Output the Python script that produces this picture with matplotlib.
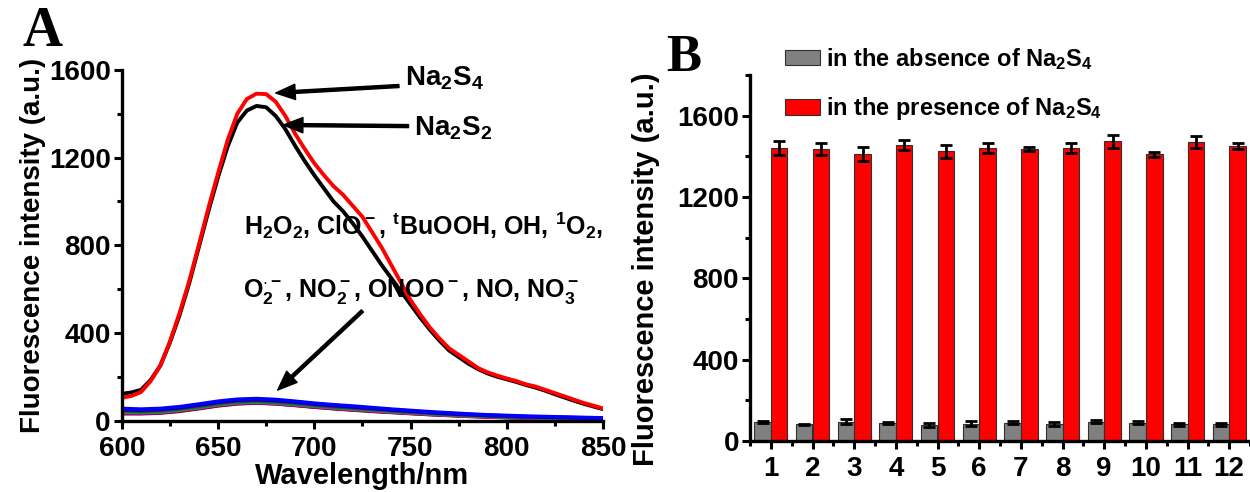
import numpy as np
import matplotlib
matplotlib.use('Agg')
import matplotlib.pyplot as plt
from matplotlib.ticker import MultipleLocator

plt.rcParams['font.family'] = ['Liberation Sans', 'DejaVu Sans']
plt.rcParams['font.weight'] = 'bold'
plt.rcParams['mathtext.fontset'] = 'custom'
plt.rcParams['mathtext.rm'] = 'Liberation Sans:bold'
plt.rcParams['mathtext.it'] = 'Liberation Sans:bold'
plt.rcParams['mathtext.bf'] = 'Liberation Sans:bold'
plt.rcParams['mathtext.default'] = 'rm'

# ---- panel A: emission spectra ----
wl = [600, 605, 610, 615, 620, 625, 630, 635, 640, 645, 650, 655, 660, 665, 670,
      675, 680, 685, 690, 695, 700, 705, 710, 715, 720, 725, 730, 735, 740, 745,
      750, 755, 760, 765, 770, 775, 780, 785, 790, 795, 800, 805, 810, 815, 820,
      825, 830, 835, 840, 845, 850]
na2s4 = [104, 112, 130, 180, 250, 360, 490, 635, 800, 970, 1128, 1280, 1400, 1468, 1492,
         1490, 1455, 1390, 1310, 1240, 1175, 1120, 1070, 1030, 980, 930, 860, 790, 710, 630,
         550, 485, 425, 375, 330, 300, 270, 240, 220, 205, 192, 180, 165, 155, 140,
         125, 110, 95, 80, 68, 55]
na2s2 = [122, 128, 140, 185, 250, 355, 480, 625, 790, 955, 1110, 1250, 1360, 1415, 1436,
         1430, 1390, 1330, 1255, 1185, 1120, 1060, 1000, 955, 900, 840, 775, 710, 650, 590,
         530, 470, 415, 365, 320, 290, 260, 235, 215, 200, 188, 176, 162, 150, 136,
         120, 105, 90, 76, 64, 52]

wl_low = [600, 610, 620, 630, 640, 650, 660, 670, 680, 690, 700, 710, 720,
          730, 740, 750, 760, 770, 780, 790, 800, 810, 820, 830, 840, 850]
low_wine = [31, 31, 34, 42, 54, 67, 76, 80, 76, 69, 61, 54, 48, 42, 37, 32, 27, 23, 19, 16, 13, 11, 9, 8, 7, 6]
low_purple = [34, 33, 36, 44, 56, 69, 78, 81, 77, 70, 62, 55, 49, 43, 38, 33, 28, 24, 20, 17, 14, 12, 10, 9, 7, 6]
low_magenta = [36, 35, 38, 46, 58, 71, 80, 83, 79, 72, 64, 57, 51, 45, 39, 34, 29, 25, 21, 18, 15, 13, 11, 9, 8, 7]
low_olive = [39, 37, 40, 48, 60, 73, 82, 85, 81, 74, 66, 59, 53, 47, 41, 36, 31, 26, 22, 19, 16, 14, 12, 10, 9, 8]
low_cyan = [41, 39, 42, 50, 62, 75, 84, 87, 83, 76, 68, 61, 55, 49, 43, 37, 32, 27, 23, 20, 17, 15, 13, 11, 10, 8]
low_green = [44, 41, 44, 52, 64, 77, 86, 89, 85, 78, 70, 63, 57, 51, 45, 39, 34, 29, 25, 21, 18, 16, 14, 12, 10, 9]
low_violet = [47, 45, 48, 56, 68, 81, 90, 93, 89, 82, 73, 66, 60, 53, 47, 41, 35, 30, 26, 22, 19, 17, 15, 13, 11, 10]
low_navy = [50, 48, 51, 59, 71, 84, 93, 96, 92, 85, 76, 69, 63, 56, 49, 43, 37, 32, 28, 24, 21, 18, 16, 14, 12, 11]
low_blue = [55, 52, 55, 63, 75, 88, 97, 100, 96, 88, 79, 72, 66, 59, 52, 46, 40, 35, 30, 26, 23, 20, 18, 16, 14, 12]
low_sets = [(low_wine, '#800000'), (low_purple, '#800080'), (low_magenta, '#c000c0'),
            (low_olive, '#808000'), (low_cyan, '#008080'), (low_green, '#008000'),
            (low_violet, '#6000c0'), (low_navy, '#000080'), (low_blue, '#0000ff')]

# ---- panel B: bar chart ----
samples = [1, 2, 3, 4, 5, 6, 7, 8, 9, 10, 11, 12]
absence = [95, 82, 95, 90, 79, 85, 90, 82, 95, 90, 82, 82]
absence_err = [5, 3, 12, 5, 10, 12, 8, 10, 8, 8, 8, 8]
presence = [1442, 1435, 1412, 1455, 1425, 1440, 1437, 1440, 1473, 1410, 1470, 1452]
presence_err = [34, 30, 35, 25, 33, 26, 11, 26, 33, 13, 30, 15]

fig = plt.figure(figsize=(12.5, 4.92), dpi=100)
axA = fig.add_axes([0.0974, 0.1453, 0.3850, 0.7124])
axB = fig.add_axes([0.6000, 0.1037, 0.4000, 0.7439])

def style(ax):
    for s in ['top', 'right']:
        ax.spines[s].set_visible(False)
    for s in ['left', 'bottom']:
        ax.spines[s].set_linewidth(2.4)
    ax.tick_params(which='major', direction='out', length=6, width=2.2, labelsize=20, pad=2)
    ax.tick_params(which='minor', direction='out', length=3.5, width=2.2)
    ax.tick_params(axis='x', which='major', pad=5)
    for lab in ax.get_xticklabels() + ax.get_yticklabels():
        lab.set_fontweight('bold')

# A
for vals, col in low_sets:
    axA.plot(wl_low, vals, color=col, lw=2.6)
axA.plot(wl, na2s2, color='black', lw=2.8)
axA.plot(wl, na2s4, color='#ff0000', lw=2.8)
axA.set_xlim(600, 850)
axA.set_ylim(0, 1600)
axA.xaxis.set_major_locator(MultipleLocator(50))
axA.xaxis.set_minor_locator(MultipleLocator(25))
axA.yaxis.set_major_locator(MultipleLocator(400))
axA.yaxis.set_minor_locator(MultipleLocator(200))
style(axA)
axA.set_xlabel('Wavelength/nm', fontsize=21, fontweight='bold', labelpad=0)
axA.set_ylabel('Fluorescence intensity (a.u.)', fontsize=20, fontweight='bold')
axA.yaxis.set_label_coords(-0.158, 0.50)

arr = dict(facecolor='black', edgecolor='black', width=2.2, headwidth=11, headlength=14, shrink=0)
axA.annotate('', xy=(680, 1495), xytext=(744, 1527), arrowprops=arr, annotation_clip=False)
axA.annotate('', xy=(684, 1349), xytext=(749, 1344), arrowprops=arr, annotation_clip=False)
axA.annotate('', xy=(681, 139), xytext=(725, 500), arrowprops=arr, annotation_clip=False)
axA.text(747, 1531, 'Na$_2$S$_4$', fontsize=20, fontweight='bold', va='baseline', clip_on=False)
axA.text(752, 1303, 'Na$_2$S$_2$', fontsize=20, fontweight='bold', va='baseline', clip_on=False)
axA.text(663.5, 850, 'H$_2$O$_2$, ClO$^-$, $^t$BuOOH, OH, $^1$O$_2$,', fontsize=18,
         fontweight='bold', va='baseline', clip_on=False)
axA.text(663, 565, 'O$_2^{\\cdot-}$, NO$_2^-$, ONOO$^-$, NO, NO$_3^-$', fontsize=18,
         fontweight='bold', va='baseline', clip_on=False)

fig.text(0.018, 0.906, 'A', fontsize=40, fontweight='bold', family='Liberation Serif')

# B
x = np.array(samples)
axB.bar(x - 0.2, absence, width=0.4, color='#808080', edgecolor='#303030', lw=0.8,
        yerr=absence_err, error_kw=dict(ecolor='black', elinewidth=2, capsize=4, capthick=2),
        label='in the absence of Na$_2$S$_4$')
axB.bar(x + 0.2, presence, width=0.4, color='#ff0000', edgecolor='#303030', lw=0.8,
        yerr=presence_err, error_kw=dict(ecolor='black', elinewidth=2, capsize=4, capthick=2),
        label='in the presence of Na$_2$S$_4$')
axB.set_xlim(0.5, 12.5)
axB.set_ylim(0, 1800)
axB.set_xticks(samples)
axB.xaxis.set_minor_locator(MultipleLocator(0.5))
axB.yaxis.set_major_locator(MultipleLocator(400))
axB.yaxis.set_minor_locator(MultipleLocator(200))
axB.set_yticks([0, 400, 800, 1200, 1600])
style(axB)
axB.set_ylabel('Fluorescence intensity (a.u.)', fontsize=21, fontweight='bold')
axB.yaxis.set_label_coords(-0.18, 0.47)
axB.legend(loc='upper left', bbox_to_anchor=(0.07, 1.08), frameon=False, fontsize=17,
           handlelength=1.5, handleheight=0.65, handletextpad=0.25, labelspacing=1.0,
           borderaxespad=0, borderpad=0)

fig.text(0.533, 0.855, 'B', fontsize=38, fontweight='bold', family='Liberation Serif')

fig.savefig('out.png', dpi=100)
